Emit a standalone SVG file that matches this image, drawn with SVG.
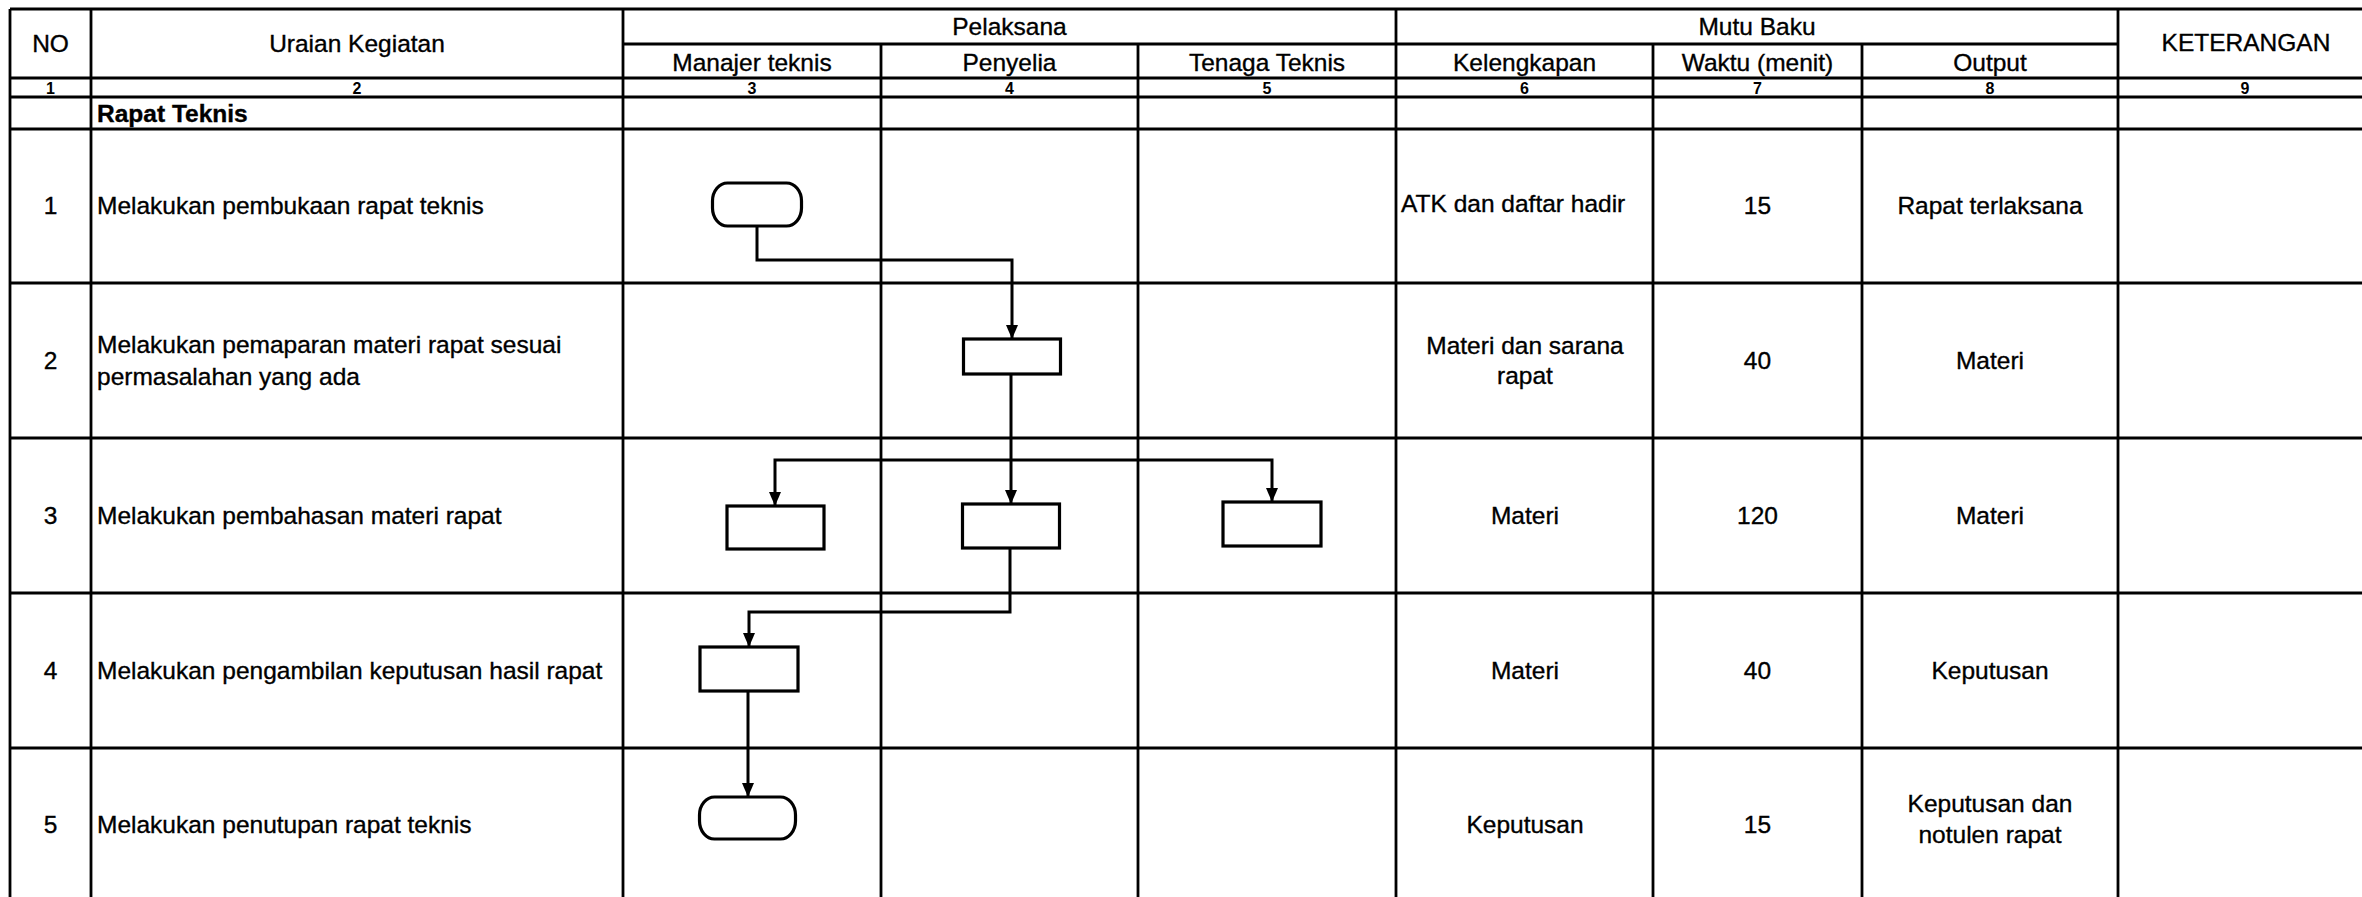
<svg xmlns="http://www.w3.org/2000/svg" width="2362" height="897" viewBox="0 0 2362 897">
<style>
.g{stroke:#000;stroke-width:2.8;fill:none}
.t{font-family:"Liberation Sans",Arial,sans-serif;font-size:24.5px;fill:#000;stroke:#000;stroke-width:0.35}
.c{text-anchor:middle}
.n{font-family:"Liberation Sans",Arial,sans-serif;font-size:16px;font-weight:bold;fill:#000;text-anchor:middle}
.b{font-weight:bold}
.node{fill:#fff;stroke:#000;stroke-width:3.2}
.con{fill:none;stroke:#000;stroke-width:3}
</style>
<defs>
<marker id="ah" markerUnits="userSpaceOnUse" markerWidth="14" markerHeight="12" refX="14" refY="6" orient="auto">
<path d="M0,0 L14,6 L0,12 z" fill="#000"/>
</marker>
</defs>
<rect width="2362" height="897" fill="#fff"/>
<g id="grid" class="g">
<line x1="10" y1="9" x2="2372" y2="9"/>
<line x1="623" y1="44" x2="2118" y2="44"/>
<line x1="10" y1="78" x2="2372" y2="78"/>
<line x1="10" y1="97" x2="2372" y2="97"/>
<line x1="10" y1="129" x2="2372" y2="129"/>
<line x1="10" y1="283" x2="2372" y2="283"/>
<line x1="10" y1="438" x2="2372" y2="438"/>
<line x1="10" y1="593" x2="2372" y2="593"/>
<line x1="10" y1="748" x2="2372" y2="748"/>
<line x1="10" y1="9" x2="10" y2="897"/>
<line x1="91" y1="9" x2="91" y2="897"/>
<line x1="623" y1="9" x2="623" y2="897"/>
<line x1="881" y1="44" x2="881" y2="897"/>
<line x1="1138" y1="44" x2="1138" y2="897"/>
<line x1="1396" y1="9" x2="1396" y2="897"/>
<line x1="1653" y1="44" x2="1653" y2="897"/>
<line x1="1862" y1="44" x2="1862" y2="897"/>
<line x1="2118" y1="9" x2="2118" y2="897"/>
</g>
<g id="header">
<text class="t c" x="50.5" y="52">NO</text>
<text class="t c" x="357" y="52">Uraian Kegiatan</text>
<text class="t c" x="1009.5" y="35">Pelaksana</text>
<text class="t c" x="1757" y="35">Mutu Baku</text>
<text class="t c" x="2246" y="51">KETERANGAN</text>
<text class="t c" x="752" y="71">Manajer teknis</text>
<text class="t c" x="1009.5" y="71">Penyelia</text>
<text class="t c" x="1267" y="71">Tenaga Teknis</text>
<text class="t c" x="1524.5" y="71">Kelengkapan</text>
<text class="t c" x="1757.5" y="71">Waktu (menit)</text>
<text class="t c" x="1990" y="71">Output</text>
<text class="n" x="50.5" y="93.5">1</text>
<text class="n" x="357" y="93.5">2</text>
<text class="n" x="752" y="93.5">3</text>
<text class="n" x="1009.5" y="93.5">4</text>
<text class="n" x="1267" y="93.5">5</text>
<text class="n" x="1524.5" y="93.5">6</text>
<text class="n" x="1757.5" y="93.5">7</text>
<text class="n" x="1990" y="93.5">8</text>
<text class="n" x="2245" y="93.5">9</text>
<text class="t b" x="97" y="121.5">Rapat Teknis</text>
</g>
<g id="rows">
<text class="t c" x="50.5" y="214">1</text>
<text class="t" x="97" y="214">Melakukan pembukaan rapat teknis</text>
<text class="t" x="1401" y="212">ATK dan daftar hadir</text>
<text class="t c" x="1757.5" y="214">15</text>
<text class="t c" x="1990" y="214">Rapat terlaksana</text>
<text class="t c" x="50.5" y="369">2</text>
<text class="t" x="97" y="353">Melakukan pemaparan materi rapat sesuai</text>
<text class="t" x="97" y="385">permasalahan yang ada</text>
<text class="t c" x="1525" y="354">Materi dan sarana</text>
<text class="t c" x="1525" y="384">rapat</text>
<text class="t c" x="1757.5" y="369">40</text>
<text class="t c" x="1990" y="369">Materi</text>
<text class="t c" x="50.5" y="524">3</text>
<text class="t" x="97" y="524">Melakukan pembahasan materi rapat</text>
<text class="t c" x="1525" y="524">Materi</text>
<text class="t c" x="1757.5" y="524">120</text>
<text class="t c" x="1990" y="524">Materi</text>
<text class="t c" x="50.5" y="678.5">4</text>
<text class="t" x="97" y="678.5">Melakukan pengambilan keputusan hasil rapat</text>
<text class="t c" x="1525" y="678.5">Materi</text>
<text class="t c" x="1757.5" y="678.5">40</text>
<text class="t c" x="1990" y="678.5">Keputusan</text>
<text class="t c" x="50.5" y="833">5</text>
<text class="t" x="97" y="833">Melakukan penutupan rapat teknis</text>
<text class="t c" x="1525" y="833">Keputusan</text>
<text class="t c" x="1757.5" y="833">15</text>
<text class="t c" x="1990" y="812">Keputusan dan</text>
<text class="t c" x="1990" y="843">notulen rapat</text>
</g>
<g id="connectors">
<path class="con" d="M757,226 V260 H1012 V339" marker-end="url(#ah)"/>
<path class="con" d="M1011,374 V504" marker-end="url(#ah)"/>
<path class="con" d="M1011,460 H775 V506" marker-end="url(#ah)"/>
<path class="con" d="M1011,460 H1272 V502" marker-end="url(#ah)"/>
<path class="con" d="M1010,548 V612 H749 V647" marker-end="url(#ah)"/>
<path class="con" d="M748,691 V797" marker-end="url(#ah)"/>
</g>
<g id="n1"><rect class="node" x="712.5" y="183" width="89" height="43" rx="15" ry="18"/></g>
<g id="n2"><rect class="node" x="963.5" y="339" width="97" height="35"/></g>
<g id="n3a"><rect class="node" x="727" y="506" width="97" height="43"/></g>
<g id="n3b"><rect class="node" x="962.5" y="504" width="97" height="44"/></g>
<g id="n3c"><rect class="node" x="1223" y="502" width="98" height="44"/></g>
<g id="n4"><rect class="node" x="700" y="647" width="98" height="44"/></g>
<g id="n5"><rect class="node" x="699.5" y="797" width="96" height="42" rx="15" ry="18"/></g>
</svg>
